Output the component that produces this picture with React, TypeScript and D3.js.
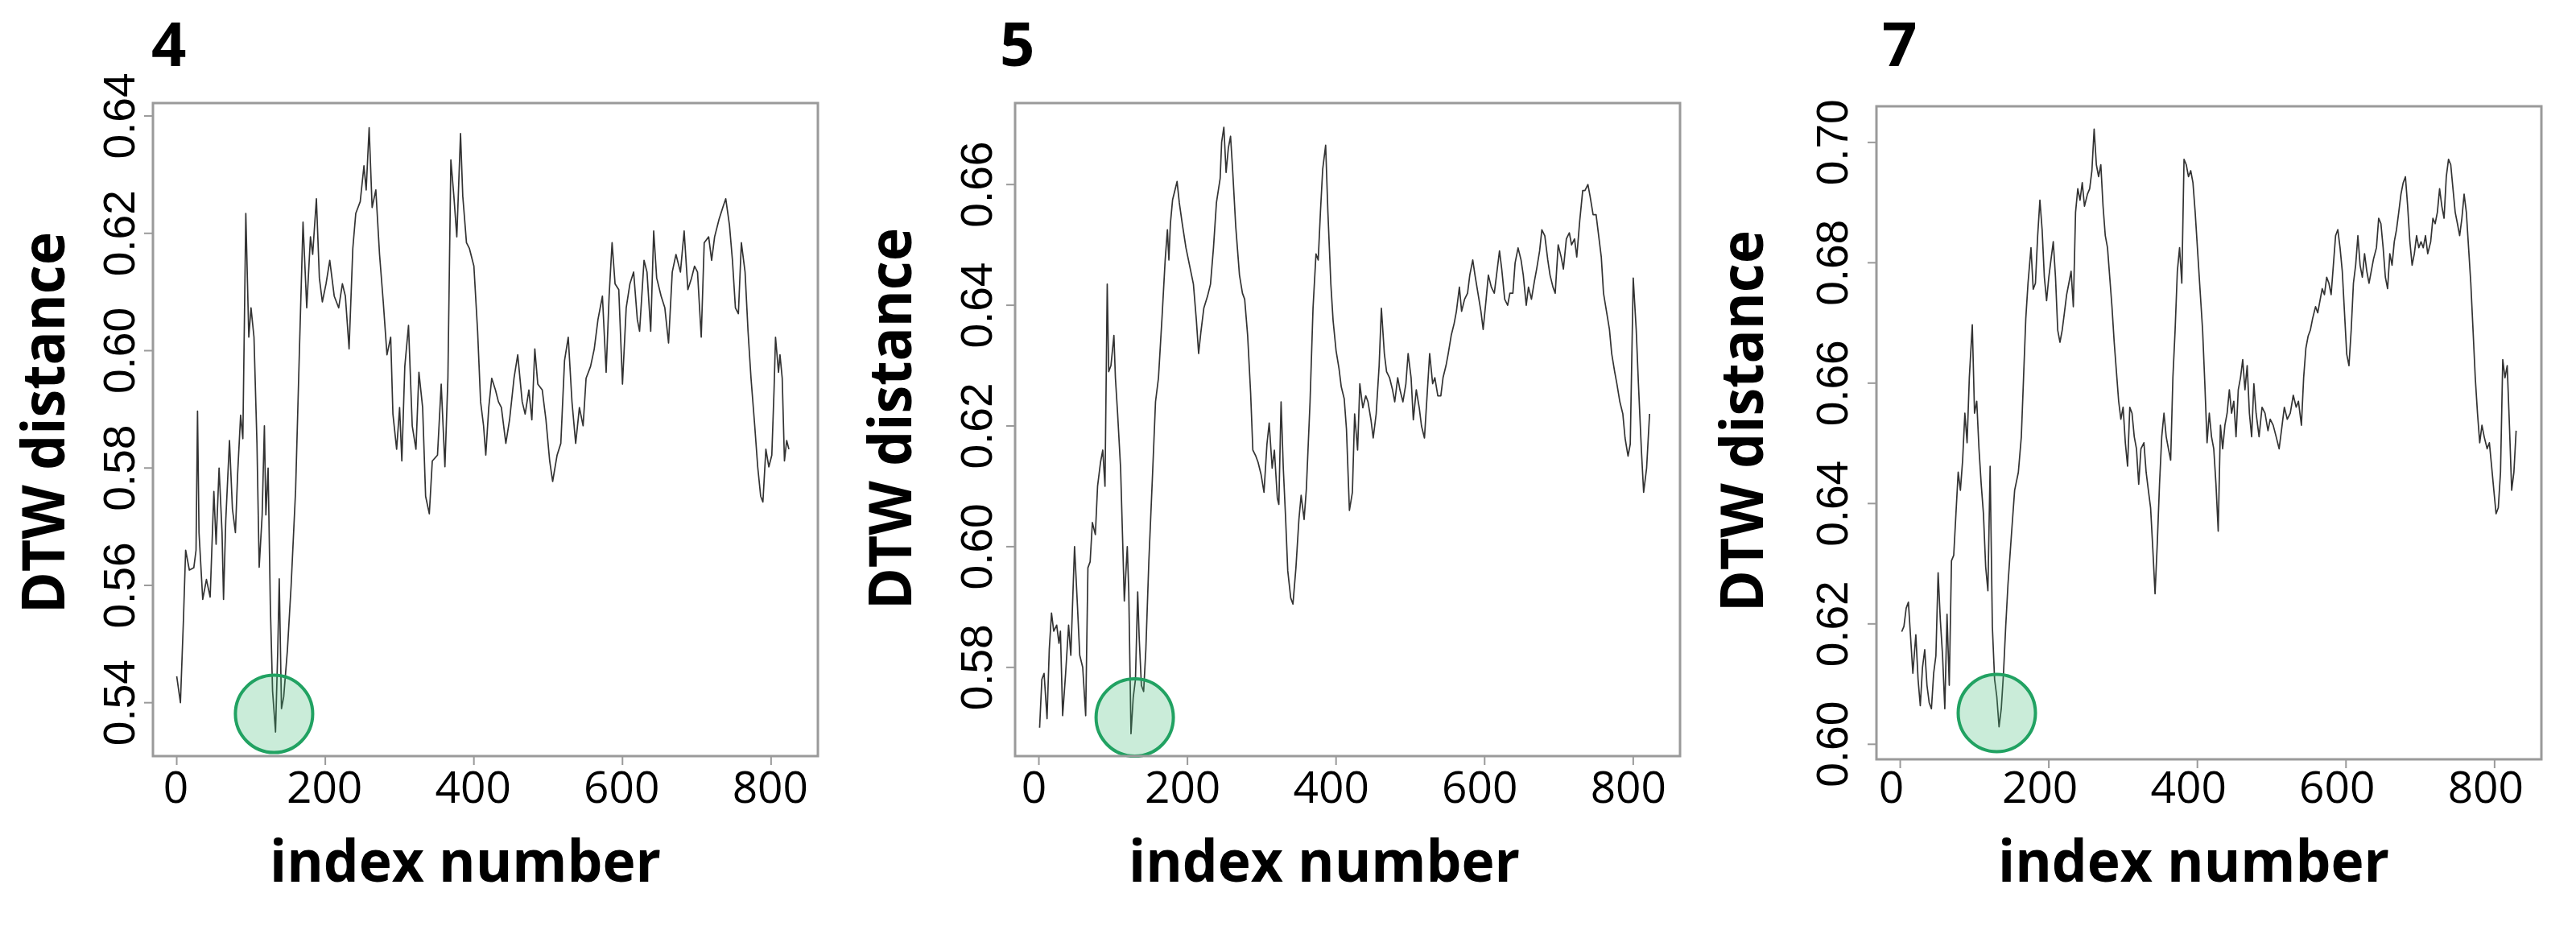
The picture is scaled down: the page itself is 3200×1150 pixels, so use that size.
import React from "react";
import * as d3 from "d3";

// ---------- data ----------
const panelLabels = ["4", "5", "7"];
const xTicks = [0, 200, 400, 600, 800];
const yTicks4 = [0.54, 0.56, 0.58, 0.6, 0.62, 0.64];
const yTicks5 = [0.58, 0.6, 0.62, 0.64, 0.66];
const yTicks7 = [0.6, 0.62, 0.64, 0.66, 0.68, 0.7];
const xTitle = "index number";
const yTitle = "DTW distance";

// [index, DTW distance]
const series4: [number, number][] = [
  [0, 0.5445], [5, 0.54], [9, 0.554], [12, 0.566], [17, 0.5626], [23, 0.563], [26, 0.566], [28, 0.5897], [30, 0.569], [35, 0.5576],
  [40, 0.561], [45, 0.558], [50, 0.576], [53, 0.567], [57, 0.58], [61, 0.569], [63, 0.5576], [66, 0.571], [71, 0.5847], [75, 0.573],
  [79, 0.569], [82, 0.579], [86, 0.589], [89, 0.585], [93, 0.6234], [97, 0.6023], [100, 0.6073], [104, 0.6023], [108, 0.5842], [111, 0.5631],
  [115, 0.572], [118, 0.5872], [120, 0.572], [123, 0.58], [126, 0.5566], [129, 0.542], [133, 0.535], [136, 0.549], [138, 0.5611], [141, 0.539],
  [144, 0.541], [149, 0.549], [154, 0.56], [160, 0.5762], [165, 0.5993], [170, 0.6219], [175, 0.6073], [180, 0.6194], [183, 0.6164], [188, 0.6259],
  [192, 0.6124], [196, 0.6083], [201, 0.6114], [206, 0.6154], [212, 0.6093], [218, 0.6073], [223, 0.6114], [227, 0.6093], [232, 0.6003], [237, 0.6174],
  [241, 0.6234], [247, 0.6254], [252, 0.6315], [255, 0.6274], [259, 0.638], [263, 0.6244], [268, 0.6274], [273, 0.6164], [278, 0.6083], [283, 0.5993],
  [288, 0.6023], [291, 0.5892], [296, 0.5832], [300, 0.5903], [303, 0.5812], [307, 0.5973], [312, 0.6043], [317, 0.5872], [322, 0.5832], [326, 0.5963],
  [331, 0.5903], [335, 0.5752], [340, 0.5722], [344, 0.5812], [351, 0.5822], [356, 0.5943], [361, 0.5802], [365, 0.5953], [369, 0.6325], [373, 0.6264],
  [377, 0.6194], [382, 0.637], [385, 0.6264], [390, 0.6184], [394, 0.6174], [400, 0.6144], [405, 0.6033], [409, 0.5913], [413, 0.5872], [416, 0.5822],
  [420, 0.5903], [424, 0.5953], [429, 0.5933], [433, 0.5913], [437, 0.5903], [443, 0.5842], [448, 0.5882], [454, 0.5953], [459, 0.5993], [465, 0.5913],
  [469, 0.5892], [474, 0.5933], [478, 0.5882], [482, 0.6003], [486, 0.5943], [492, 0.5933], [497, 0.5882], [502, 0.5812], [506, 0.5777], [512, 0.5822],
  [517, 0.5842], [522, 0.5983], [527, 0.6023], [532, 0.5913], [537, 0.5842], [542, 0.5903], [547, 0.5872], [551, 0.5953], [557, 0.5973], [562, 0.6003],
  [567, 0.6053], [573, 0.6093], [578, 0.5963], [582, 0.6093], [586, 0.6184], [590, 0.6114], [595, 0.6104], [600, 0.5943], [605, 0.6073], [610, 0.6114],
  [615, 0.6134], [620, 0.6053], [623, 0.6033], [629, 0.6154], [633, 0.6134], [638, 0.6033], [642, 0.6204], [646, 0.6124], [652, 0.6093], [657, 0.6073],
  [662, 0.6013], [667, 0.6134], [672, 0.6164], [678, 0.6134], [683, 0.6204], [688, 0.6104], [693, 0.6124], [697, 0.6144], [701, 0.6134], [706, 0.6023],
  [710, 0.6184], [716, 0.6194], [720, 0.6154], [724, 0.6194], [730, 0.6224], [735, 0.6244], [739, 0.6259], [744, 0.6214], [748, 0.6154], [752, 0.6073],
  [756, 0.6063], [760, 0.6184], [765, 0.6134], [769, 0.6033], [773, 0.5953], [778, 0.5872], [782, 0.5802], [786, 0.5752], [789, 0.5742], [793, 0.5832],
  [797, 0.5802], [801, 0.5822], [804, 0.5933], [806, 0.6023], [810, 0.5963], [812, 0.5993], [815, 0.5953], [818, 0.5812], [821, 0.5847], [824, 0.5832],
];

const series5: [number, number][] = [
  [1, 0.57], [4, 0.578], [7, 0.579], [11, 0.5715], [14, 0.583], [17, 0.589], [20, 0.586], [24, 0.587], [27, 0.584], [29, 0.586],
  [32, 0.572], [36, 0.579], [40, 0.587], [43, 0.582], [48, 0.6], [52, 0.59], [55, 0.582], [59, 0.58], [63, 0.572], [66, 0.5965],
  [69, 0.5975], [72, 0.604], [76, 0.602], [79, 0.61], [83, 0.614], [86, 0.616], [89, 0.61], [92, 0.6435], [94, 0.629], [97, 0.63],
  [101, 0.635], [103, 0.628], [106, 0.622], [110, 0.613], [113, 0.6], [115, 0.591], [119, 0.6], [121, 0.5925], [124, 0.569], [127, 0.575],
  [130, 0.578], [133, 0.5925], [135, 0.585], [138, 0.577], [141, 0.576], [144, 0.583], [148, 0.5975], [153, 0.612], [157, 0.624], [161, 0.628],
  [166, 0.6385], [170, 0.6475], [173, 0.6525], [175, 0.6475], [177, 0.6535], [180, 0.6575], [183, 0.659], [186, 0.6605], [189, 0.657], [193, 0.6535],
  [198, 0.6495], [203, 0.6465], [208, 0.6435], [212, 0.6375], [215, 0.632], [218, 0.6355], [222, 0.6395], [227, 0.6415], [231, 0.6435], [235, 0.6495],
  [239, 0.657], [244, 0.661], [246, 0.667], [249, 0.6695], [252, 0.662], [255, 0.666], [258, 0.668], [261, 0.662], [265, 0.653], [270, 0.645],
  [274, 0.642], [277, 0.641], [281, 0.635], [285, 0.6255], [288, 0.616], [292, 0.615], [295, 0.614], [299, 0.612], [303, 0.609], [307, 0.617],
  [310, 0.6205], [314, 0.613], [317, 0.616], [321, 0.608], [323, 0.607], [326, 0.624], [329, 0.613], [332, 0.605], [335, 0.596], [339, 0.5915],
  [342, 0.5905], [346, 0.5965], [350, 0.6045], [353, 0.6085], [357, 0.6045], [360, 0.6095], [365, 0.624], [369, 0.6395], [373, 0.6485], [376, 0.6475],
  [379, 0.6555], [382, 0.6625], [386, 0.6665], [389, 0.6555], [393, 0.6435], [396, 0.6375], [400, 0.6325], [404, 0.6295], [407, 0.6265], [411, 0.6245],
  [414, 0.6195], [418, 0.606], [422, 0.609], [425, 0.622], [429, 0.616], [432, 0.627], [436, 0.623], [440, 0.625], [443, 0.624], [447, 0.621],
  [450, 0.618], [454, 0.622], [458, 0.63], [461, 0.6395], [465, 0.632], [468, 0.629], [472, 0.628], [476, 0.626], [479, 0.624], [483, 0.628],
  [486, 0.626], [490, 0.624], [494, 0.627], [497, 0.632], [501, 0.628], [504, 0.621], [508, 0.626], [512, 0.623], [515, 0.62], [519, 0.618],
  [523, 0.626], [526, 0.632], [530, 0.627], [533, 0.628], [537, 0.625], [541, 0.625], [544, 0.628], [548, 0.63], [551, 0.632], [555, 0.635],
  [559, 0.637], [562, 0.639], [566, 0.643], [569, 0.639], [573, 0.641], [577, 0.642], [580, 0.645], [584, 0.6475], [587, 0.645], [591, 0.642],
  [595, 0.639], [598, 0.636], [602, 0.641], [605, 0.645], [609, 0.643], [613, 0.642], [616, 0.645], [620, 0.649], [623, 0.646], [627, 0.641],
  [631, 0.64], [634, 0.642], [638, 0.642], [641, 0.647], [645, 0.6495], [649, 0.6475], [652, 0.645], [656, 0.64], [659, 0.643], [663, 0.641],
  [667, 0.644], [670, 0.646], [674, 0.649], [677, 0.6525], [681, 0.6515], [685, 0.6475], [688, 0.645], [692, 0.643], [695, 0.642], [699, 0.65],
  [703, 0.648], [706, 0.646], [710, 0.651], [714, 0.652], [717, 0.65], [721, 0.651], [724, 0.648], [728, 0.654], [732, 0.659], [735, 0.659],
  [739, 0.66], [742, 0.658], [746, 0.655], [750, 0.655], [753, 0.652], [757, 0.648], [760, 0.642], [764, 0.639], [768, 0.636], [771, 0.632],
  [775, 0.629], [778, 0.627], [782, 0.624], [786, 0.622], [789, 0.618], [793, 0.615], [796, 0.617], [800, 0.6445], [804, 0.636], [807, 0.627],
  [811, 0.616], [814, 0.609], [818, 0.613], [822, 0.622],
];

const series7: [number, number][] = [
  [2, 0.6187], [5, 0.6196], [8, 0.6226], [11, 0.6236], [14, 0.6177], [17, 0.6118], [21, 0.6182], [24, 0.6108], [27, 0.6064], [30, 0.6128],
  [33, 0.6157], [36, 0.6098], [39, 0.6069], [42, 0.6059], [45, 0.6118], [48, 0.6147], [51, 0.6285], [54, 0.6206], [57, 0.6147], [60, 0.6059],
  [63, 0.6216], [66, 0.6098], [69, 0.6305], [72, 0.6314], [75, 0.6383], [78, 0.6452], [81, 0.6422], [84, 0.6472], [87, 0.655], [90, 0.6501],
  [93, 0.6609], [97, 0.6697], [100, 0.655], [103, 0.657], [106, 0.6491], [109, 0.6432], [112, 0.6383], [115, 0.6295], [118, 0.6255], [121, 0.6462],
  [124, 0.6196], [127, 0.6108], [130, 0.6079], [133, 0.6029], [136, 0.6059], [139, 0.6118], [142, 0.6196], [145, 0.6265], [150, 0.6354], [154, 0.6422],
  [159, 0.6452], [163, 0.6511], [166, 0.6609], [169, 0.6707], [172, 0.6766], [176, 0.6825], [179, 0.6756], [182, 0.6766], [185, 0.6845], [188, 0.6904],
  [191, 0.6855], [194, 0.6776], [197, 0.6737], [200, 0.6776], [203, 0.6806], [206, 0.6835], [209, 0.6776], [212, 0.6688], [215, 0.6668], [218, 0.6688],
  [221, 0.6717], [224, 0.6747], [227, 0.6766], [230, 0.6786], [233, 0.6727], [236, 0.6884], [239, 0.6923], [242, 0.6904], [245, 0.6933], [248, 0.6894],
  [252, 0.6914], [255, 0.6923], [258, 0.6953], [261, 0.7022], [264, 0.6963], [267, 0.6943], [270, 0.6963], [273, 0.6894], [276, 0.6845], [279, 0.6825],
  [282, 0.6776], [285, 0.6727], [288, 0.6668], [291, 0.6619], [294, 0.657], [297, 0.654], [300, 0.656], [303, 0.6501], [306, 0.6462], [309, 0.656],
  [312, 0.655], [315, 0.6511], [318, 0.6491], [321, 0.6432], [324, 0.6491], [328, 0.6501], [331, 0.6452], [334, 0.6422], [337, 0.6393], [340, 0.6324],
  [343, 0.625], [346, 0.6334], [349, 0.6432], [352, 0.6511], [355, 0.655], [358, 0.6511], [361, 0.6491], [364, 0.6472], [367, 0.6609], [370, 0.6688],
  [373, 0.6786], [376, 0.6825], [379, 0.6766], [382, 0.6972], [385, 0.6963], [388, 0.6943], [391, 0.6953], [394, 0.6933], [397, 0.6884], [400, 0.6825],
  [403, 0.6766], [407, 0.6688], [410, 0.6599], [413, 0.6501], [416, 0.655], [419, 0.6511], [422, 0.6491], [425, 0.6432], [428, 0.6354], [431, 0.653],
  [434, 0.6491], [437, 0.653], [440, 0.655], [443, 0.6589], [446, 0.655], [449, 0.657], [452, 0.6511], [455, 0.6589], [458, 0.6609], [461, 0.6639],
  [464, 0.6589], [467, 0.6629], [470, 0.655], [473, 0.6511], [476, 0.6599], [479, 0.655], [483, 0.6511], [487, 0.656], [491, 0.655], [495, 0.6521],
  [498, 0.654], [502, 0.653], [506, 0.6511], [510, 0.6491], [514, 0.653], [517, 0.656], [521, 0.654], [525, 0.655], [529, 0.658], [533, 0.656],
  [536, 0.657], [540, 0.653], [543, 0.6609], [546, 0.6658], [549, 0.6678], [552, 0.6688], [555, 0.6707], [559, 0.6727], [562, 0.6717], [565, 0.6737],
  [568, 0.6757], [571, 0.6747], [574, 0.6776], [577, 0.6766], [580, 0.6747], [583, 0.6796], [586, 0.6845], [589, 0.6855], [592, 0.6825], [595, 0.6786],
  [598, 0.6717], [601, 0.6648], [604, 0.6629], [607, 0.6688], [610, 0.6766], [613, 0.6796], [616, 0.6845], [619, 0.6796], [622, 0.6776], [625, 0.6815],
  [628, 0.6786], [631, 0.6766], [634, 0.6786], [637, 0.6806], [641, 0.6825], [644, 0.6874], [647, 0.6865], [650, 0.6825], [653, 0.6776], [656, 0.6757],
  [659, 0.6815], [662, 0.6796], [665, 0.6835], [668, 0.6855], [671, 0.6884], [674, 0.6914], [677, 0.6933], [680, 0.6943], [683, 0.6894], [686, 0.6835],
  [689, 0.6796], [692, 0.6815], [695, 0.6845], [698, 0.6825], [701, 0.6835], [704, 0.6825], [707, 0.6845], [710, 0.6815], [714, 0.6835], [717, 0.6874],
  [720, 0.6865], [723, 0.6884], [726, 0.6923], [729, 0.6894], [732, 0.6874], [735, 0.6943], [738, 0.6972], [741, 0.6963], [744, 0.6923], [747, 0.6884],
  [750, 0.6865], [753, 0.6845], [756, 0.6874], [759, 0.6914], [762, 0.6884], [765, 0.6825], [768, 0.6766], [771, 0.6688], [774, 0.6609], [777, 0.655],
  [780, 0.6501], [783, 0.653], [786, 0.6511], [790, 0.6491], [793, 0.6501], [796, 0.6462], [799, 0.6422], [802, 0.6383], [805, 0.6393], [808, 0.6452],
  [811, 0.6639], [814, 0.6609], [817, 0.6629], [820, 0.653], [823, 0.6422], [826, 0.6452], [829, 0.6521],
];

// highlighted minimum (circle centre) per panel: [index, distance]
const highlight4: [number, number] = [131, 0.5381];
const highlight5: [number, number] = [129, 0.5717];
const highlight7: [number, number] = [130, 0.6052];

// axis ranges (R style, 4% padding)
const xDomain: [number, number] = [-32, 863];
const yDomain4: [number, number] = [0.5309, 0.6422];
const yDomain5: [number, number] = [0.5653, 0.6735];
const yDomain7: [number, number] = [0.5975, 0.706];

// ---------- layout ----------
const panels = [
  {
    label: panelLabels[0], series: series4, yTicks: yTicks4, yDomain: yDomain4, highlight: highlight4,
    left: 190, right: 1016, top: 128, bottom: 939,
    yTitleX: 80, yTitleY: 525, xTitleX: 578, tickLabelX: 167, labelX: 188, xLabelDx: -1,
  },
  {
    label: panelLabels[1], series: series5, yTicks: yTicks5, yDomain: yDomain5, highlight: highlight5,
    left: 1261, right: 2087, top: 128, bottom: 939,
    yTitleX: 1132, yTitleY: 520, xTitleX: 1645, tickLabelX: 1232, labelX: 1242, xLabelDx: -6,
  },
  {
    label: panelLabels[2], series: series7, yTicks: yTicks7, yDomain: yDomain7, highlight: highlight7,
    left: 2331, right: 3157, top: 132, bottom: 943,
    yTitleX: 2190, yTitleY: 523, xTitleX: 2725, tickLabelX: 2295, labelX: 2338, xLabelDx: -11,
  },
];

const fmt = d3.format(".2f");

function Panel({ p }: { p: (typeof panels)[number] }) {
  const x = d3.scaleLinear().domain(xDomain).range([p.left, p.right]);
  const y = d3.scaleLinear().domain(p.yDomain).range([p.bottom, p.top]);
  const line = d3
    .line<[number, number]>()
    .x((d) => x(d[0]))
    .y((d) => y(d[1]));
  const boxColor = "#9a9a9a";
  return (
    <g>
      {/* panel label */}
      <text x={p.labelX} y={82} fontFamily="'Open Sans', sans-serif" fontWeight={700} fontSize={76} fill="#000">
        {p.label}
      </text>

      {/* data line */}
      <path d={line(p.series) || ""} fill="none" stroke="#333" strokeWidth={1.7} strokeLinejoin="round" />

      {/* highlight circle */}
      <circle
        cx={x(p.highlight[0])}
        cy={y(p.highlight[1])}
        r={48}
        fill="rgba(60,185,115,0.27)"
        stroke="#21a262"
        strokeWidth={4}
      />

      {/* box */}
      <rect x={p.left} y={p.top} width={p.right - p.left} height={p.bottom - p.top} fill="none" stroke={boxColor} strokeWidth={3} />

      {/* x ticks */}
      {xTicks.map((t) => (
        <g key={"x" + t}>
          <line x1={x(t)} x2={x(t)} y1={p.bottom} y2={p.bottom + 11} stroke={boxColor} strokeWidth={2} />
          <text
            x={x(t) + p.xLabelDx}
            y={997}
            textAnchor="middle"
            fontFamily="'Open Sans', sans-serif"
            fontSize={55}
            fill="#000"
          >
            {t}
          </text>
        </g>
      ))}

      {/* y ticks */}
      {p.yTicks.map((t) => (
        <g key={"y" + t}>
          <line x1={p.left - 11} x2={p.left} y1={y(t)} y2={y(t)} stroke={boxColor} strokeWidth={2} />
          <text
            transform={`translate(${p.tickLabelX},${y(t)}) rotate(-90)`}
            textAnchor="middle"
            fontFamily="'Liberation Sans', Arial, sans-serif"
            fontSize={55}
            fill="#000"
          >
            {fmt(t)}
          </text>
        </g>
      ))}

      {/* axis titles */}
      <text
        x={p.xTitleX}
        y={1095}
        textAnchor="middle"
        fontFamily="'Open Sans', sans-serif"
        fontWeight={700}
        fontSize={72}
        textLength={486}
        lengthAdjust="spacingAndGlyphs"
        fill="#000"
      >
        {xTitle}
      </text>
      <text
        transform={`translate(${p.yTitleX},${p.yTitleY}) rotate(-90)`}
        textAnchor="middle"
        fontFamily="'Open Sans', sans-serif"
        fontWeight={700}
        fontSize={74}
        textLength={474}
        lengthAdjust="spacingAndGlyphs"
        fill="#000"
      >
        {yTitle}
      </text>
    </g>
  );
}

export default function App() {
  return (
    <svg
      width={3200}
      height={1150}
      viewBox="0 0 3200 1150"
      style={{ position: "absolute", left: 0, top: 0, display: "block", background: "#fff" }}
    >
      <rect x={0} y={0} width={3200} height={1150} fill="#fff" />
      {panels.map((p) => (
        <Panel key={p.label} p={p} />
      ))}
    </svg>
  );
}
